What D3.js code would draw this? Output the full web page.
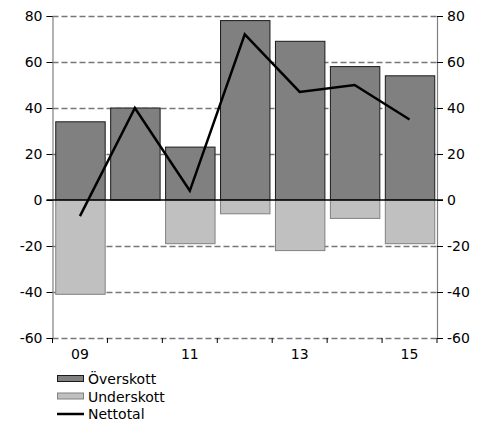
<!DOCTYPE html>
<html>
<head>
<meta charset="utf-8">
<script src="https://cdn.jsdelivr.net/npm/d3@7"></script>
<style>
  body { margin: 0; background: #fff; }
  text { font-family: "DejaVu Sans", Verdana, sans-serif; font-size: 14px; fill: #000; }
</style>
</head>
<body>
<div id="chart"></div>
<script>
// Data
const years = ["09", "10", "11", "12", "13", "14", "15"];
const overskott = [34, 40, 23, 78, 69, 58, 54];
const underskott = [-41, 0, -19, -6, -22, -8, -19];
const nettotal = [-7, 40, 4, 72, 47, 50, 35];
const yTicks = [-60, -40, -20, 0, 20, 40, 60, 80];
const xLabels = ["09", "11", "13", "15"];

const W = 483, H = 428;
const margin = { top: 16, right: 46, bottom: 90, left: 52.5 };
const width = W - margin.left - margin.right;
const height = H - margin.top - margin.bottom;

const svg = d3.select("#chart")
    .append("svg")
    .attr("width", W)
    .attr("height", H);

const g = svg.append("g")
    .attr("transform", `translate(${margin.left},${margin.top})`);

const x = d3.scaleBand()
    .domain(years)
    .range([0, width])
    .paddingInner(0.1)
    .paddingOuter(0.05);

const y = d3.scaleLinear()
    .domain([-60, 80])
    .range([height, 0]);

// Grid lines (dashed)
g.append("g")
    .selectAll("line")
    .data(yTicks.filter(d => d !== 0))
    .join("line")
    .attr("x1", 0)
    .attr("x2", width)
    .attr("y1", d => Math.round(y(d)) + 0.5)
    .attr("y2", d => Math.round(y(d)) + 0.5)
    .attr("stroke", "#777")
    .attr("stroke-width", 1.5)
    .attr("stroke-dasharray", "6,3");

// Bars
g.append("g")
    .selectAll("rect")
    .data(years)
    .join("rect")
    .attr("x", d => x(d) + 0.5)
    .attr("width", x.bandwidth())
    .attr("y", (d, i) => y(overskott[i]))
    .attr("height", (d, i) => y(0) - y(overskott[i]))
    .attr("fill", "#808080")
    .attr("stroke", "#1a1a1a")
    .attr("stroke-width", 1);

g.append("g")
    .selectAll("rect")
    .data(years.filter((d, i) => underskott[i] !== 0))
    .join("rect")
    .attr("x", d => x(d) + 0.5)
    .attr("width", x.bandwidth())
    .attr("y", y(0))
    .attr("height", d => y(underskott[years.indexOf(d)]) - y(0))
    .attr("fill", "#c0c0c0")
    .attr("stroke", "#808080")
    .attr("stroke-width", 1);

// Axes
const fmt = d => String(d);
const leftAxis = g.append("g")
    .call(d3.axisLeft(y).tickValues(yTicks).tickFormat(fmt).tickSize(6).tickPadding(4));
const rightAxis = g.append("g")
    .attr("transform", `translate(${width},0)`)
    .call(d3.axisRight(y).tickValues(yTicks).tickFormat(fmt).tickSize(6).tickPadding(4));
[leftAxis, rightAxis].forEach(a => {
    a.select(".domain").attr("stroke", "#808080").attr("stroke-width", 1.2);
    a.selectAll(".tick line").attr("stroke", "#000");
    a.selectAll("text").style("font-size", "14px");
});

// Zero line
g.append("line")
    .attr("x1", -6)
    .attr("x2", width + 6)
    .attr("y1", y(0))
    .attr("y2", y(0))
    .attr("stroke", "#000")
    .attr("stroke-width", 1.3);

// Bottom x ticks at category boundaries
const step = width / years.length;
const bounds = d3.range(years.length + 1).map(i => i * step);
g.append("g")
    .selectAll("line")
    .data(bounds)
    .join("line")
    .attr("x1", d => d)
    .attr("x2", d => d)
    .attr("y1", height)
    .attr("y2", height + 5)
    .attr("stroke", "#000");

g.append("g")
    .selectAll("text")
    .data(xLabels)
    .join("text")
    .attr("x", d => x(d) + x.bandwidth() / 2)
    .attr("y", height + 21)
    .attr("text-anchor", "middle")
    .text(d => d);

// Nettotal line
const line = d3.line()
    .x((d, i) => x(years[i]) + x.bandwidth() / 2)
    .y(d => y(d));

g.append("path")
    .datum(nettotal)
    .attr("fill", "none")
    .attr("stroke", "#000")
    .attr("stroke-width", 2.5)
    .attr("d", line);

// Legend
const legend = svg.append("g").attr("transform", "translate(57,372)");
const items = [
    { label: "Överskott", type: "rect", fill: "#808080", stroke: "#1a1a1a" },
    { label: "Underskott", type: "rect", fill: "#c0c0c0", stroke: "#808080" },
    { label: "Nettotal", type: "line" }
];
items.forEach((it, i) => {
    const row = legend.append("g").attr("transform", `translate(0,${i * 17.5})`);
    if (it.type === "rect") {
        row.append("rect")
            .attr("x", 0.5).attr("y", 3.5)
            .attr("width", 26).attr("height", 6)
            .attr("fill", it.fill).attr("stroke", it.stroke);
    } else {
        row.append("line")
            .attr("x1", 0).attr("x2", 27)
            .attr("y1", 7).attr("y2", 7)
            .attr("stroke", "#000").attr("stroke-width", 2.5);
    }
    row.append("text")
        .attr("x", 31)
        .attr("y", 12)
        .text(it.label);
});
</script>
</body>
</html>
